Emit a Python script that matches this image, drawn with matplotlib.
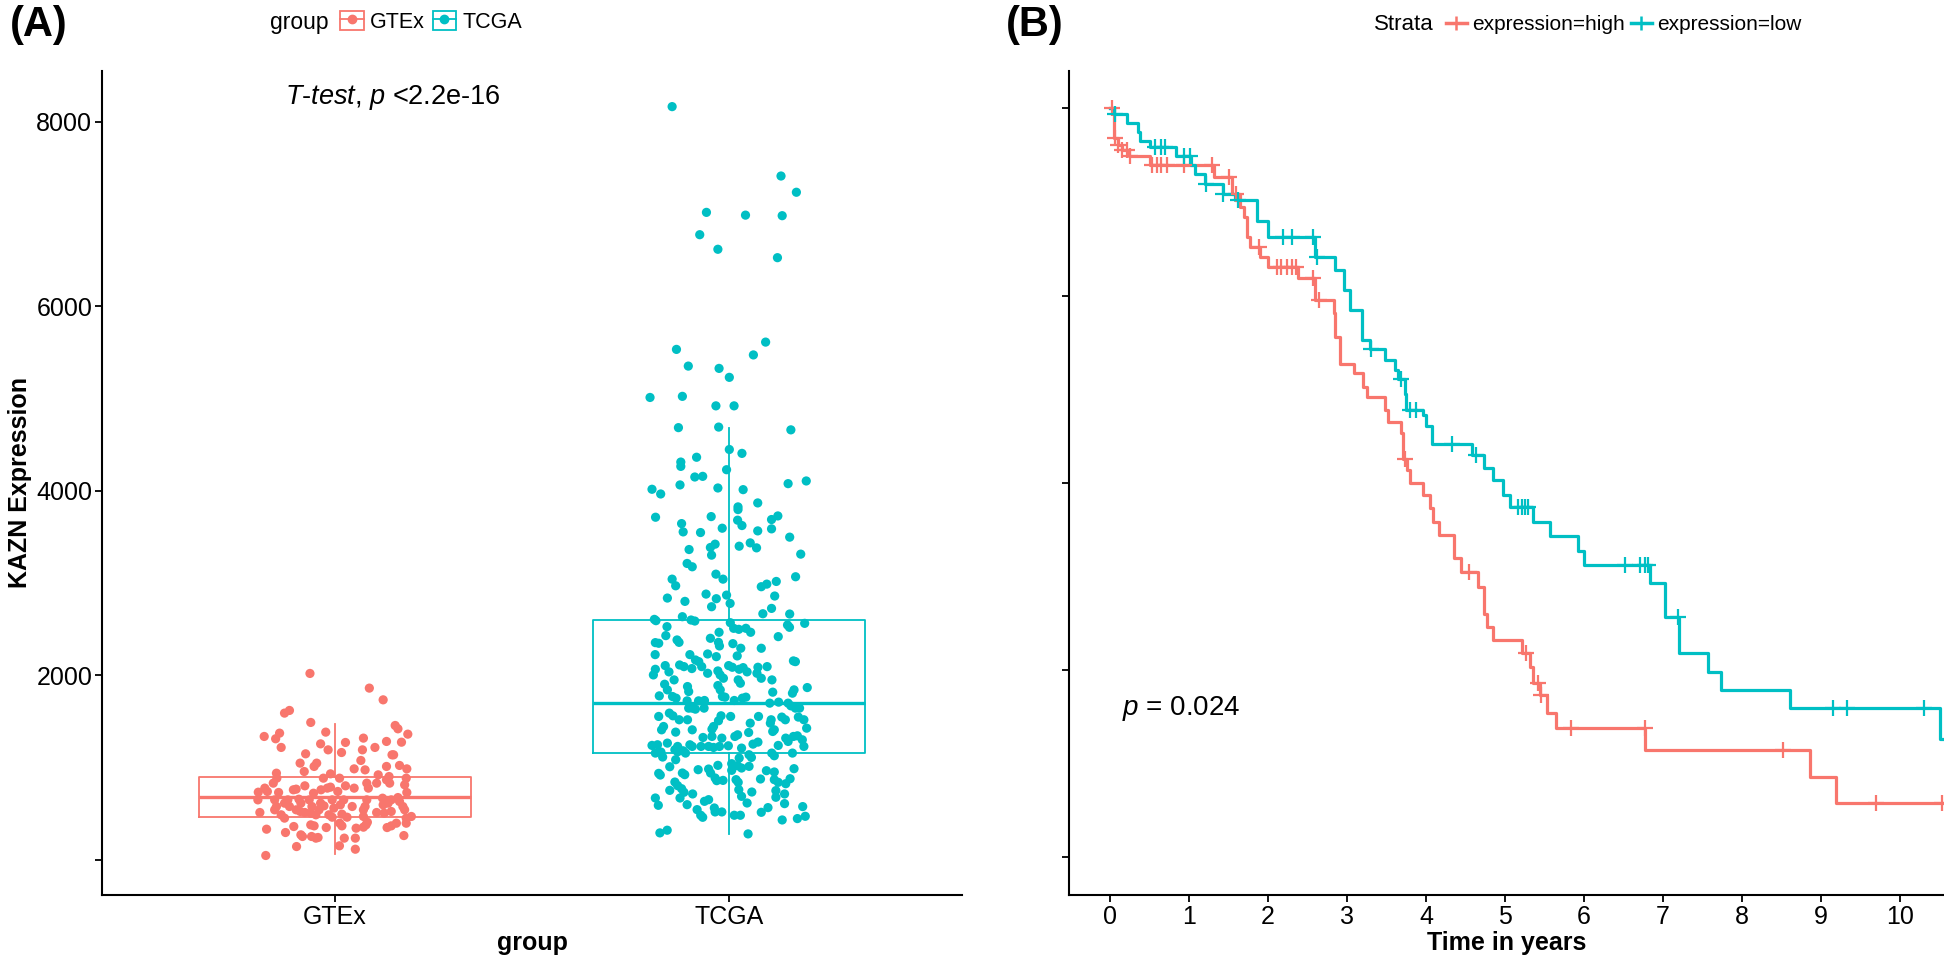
import numpy as np
import matplotlib
matplotlib.use('Agg')
import matplotlib.pyplot as plt
from matplotlib.lines import Line2D
from matplotlib.patches import Rectangle
from matplotlib.legend_handler import HandlerTuple

RED = '#F8766D'
TEAL = '#00BFC4'

plt.rcParams['font.family'] = ['Liberation Sans', 'DejaVu Sans']
plt.rcParams['mathtext.fontset'] = 'custom'
plt.rcParams['mathtext.rm'] = 'Liberation Sans'
plt.rcParams['mathtext.it'] = 'Liberation Sans:italic'

# ---- panel A data: (jitter offset, expression) ----
groups = ['GTEx', 'TCGA']

gtex_points = [
    (-0.063, 2021), (0.0875, 1862), (0.1225, 1735), (-0.1275, 1591), (-0.115, 1620),
    (-0.061, 1490), (-0.179, 1338), (-0.15, 1313), (-0.14, 1374), (-0.136, 1219),
    (-0.023, 1385), (-0.036, 1258), (-0.017, 1193), (0.027, 1273), (0.017, 1164),
    (0.0725, 1320), (0.07, 1193), (0.1017, 1219), (0.131, 1284), (0.153, 1457),
    (0.16, 1421), (0.185, 1363), (0.169, 1276), (-0.074, 1150), (-0.088, 1049),
    (-0.046, 1049), (-0.0525, 1013), (-0.0775, 958), (0.049, 987), (0.066, 1078),
    (0.0767, 976), (0.145, 1139), (0.149, 1139), (0.131, 1013), (0.164, 1024),
    (0.1825, 987), (-0.148, 940), (-0.147, 886), (-0.011, 933), (-0.029, 886),
    (0.012, 886), (0.11, 922), (0.131, 868), (0.139, 832), (0.1375, 904),
    (0.181, 886), (0.177, 814), (-0.194, 734), (-0.1775, 778), (-0.171, 742),
    (-0.156, 832), (-0.1425, 731), (-0.119, 651), (-0.105, 760), (-0.098, 767),
    (-0.076, 803), (-0.054, 723), (-0.035, 760), (-0.019, 778), (-0.011, 789),
    (0.0075, 742), (0.027, 803), (0.049, 778), (0.081, 832), (0.085, 778),
    (0.106, 832), (0.121, 669), (0.143, 651), (0.16, 676), (0.1825, 731),
    (-0.195, 651), (-0.1525, 651), (-0.148, 579), (-0.1275, 615), (-0.115, 579),
    (-0.091, 658), (-0.086, 615), (-0.065, 651), (-0.058, 579), (-0.036, 615),
    (-0.0275, 586), (-0.0067, 651), (-0.0025, 561), (0.014, 597), (0.0225, 651),
    (0.044, 579), (0.0767, 579), (0.081, 651), (0.1225, 597), (0.135, 615),
    (0.164, 633), (0.1725, 579), (-0.19, 514), (-0.1525, 543), (-0.136, 489),
    (-0.1275, 453), (-0.098, 543), (-0.0875, 525), (-0.076, 514), (-0.061, 507),
    (-0.048, 489), (-0.04, 543), (-0.015, 489), (-0.0067, 463), (0.018, 496),
    (0.031, 463), (0.0725, 543), (0.0725, 471), (0.106, 514), (0.125, 507),
    (0.143, 525), (0.177, 543), (0.181, 453), (-0.173, 333), (-0.125, 297),
    (-0.104, 362), (-0.086, 272), (-0.082, 254), (-0.061, 380), (-0.0525, 369),
    (-0.059, 254), (-0.048, 236), (-0.0425, 243), (-0.0217, 351), (-0.097, 145),
    (0.0125, 398), (0.018, 369), (0.024, 236), (0.0117, 153), (0.054, 344),
    (0.052, 236), (0.052, 116), (0.0725, 355), (0.079, 380), (0.0825, 409),
    (0.1325, 351), (0.143, 369), (0.156, 398), (0.181, 398), (0.194, 471),
    (0.175, 264), (-0.175, 48),
]

tcga_points = [
    (-0.145, 8164), (0.131, 7412), (0.170, 7236), (-0.058, 7018), (0.041, 6988),
    (0.134, 6982), (-0.075, 6776), (-0.029, 6618), (0.122, 6527), (0.092, 5612),
    (-0.134, 5533), (0.061, 5473), (-0.104, 5352), (-0.026, 5327), (0.0, 5230),
    (-0.201, 5012), (-0.119, 5024), (-0.034, 4921), (0.012, 4921), (-0.129, 4685),
    (-0.027, 4691), (0.156, 4661), (0.0, 4448), (0.032, 4406), (-0.083, 4364),
    (-0.123, 4312), (-0.123, 4265), (-0.007, 4229), (-0.0875, 4150), (-0.0675, 4157),
    (-0.196, 4017), (-0.174, 3966), (-0.125, 4064), (-0.029, 4031), (0.035, 4013),
    (0.149, 4078), (0.195, 4107), (0.072, 3869), (0.022, 3826), (0.022, 3797),
    (-0.187, 3714), (-0.046, 3721), (0.021, 3682), (0.032, 3624), (0.107, 3689),
    (0.123, 3728), (-0.121, 3645), (-0.117, 3555), (-0.073, 3548), (-0.018, 3595),
    (0.072, 3566), (0.107, 3588), (0.153, 3498), (0.025, 3400), (0.053, 3436),
    (0.069, 3382), (-0.048, 3386), (-0.036, 3422), (-0.102, 3364), (-0.045, 3303),
    (0.181, 3314), (-0.107, 3213), (-0.094, 3177), (-0.034, 3097), (-0.016, 3043),
    (-0.145, 3043), (-0.136, 2971), (0.168, 3069), (0.081, 2961), (0.095, 2989),
    (0.119, 3018), (0.115, 2860), (-0.157, 2838), (-0.1125, 2802), (-0.059, 2881),
    (-0.033, 2831), (-0.045, 2744), (-0.007, 2870), (0.002, 2780), (0.107, 2726),
    (0.085, 2668), (0.153, 2665), (-0.19, 2607), (-0.186, 2593), (-0.119, 2636),
    (-0.097, 2600), (-0.0875, 2589), (0.1475, 2546), (0.1525, 2521), (0.191, 2564),
    (0.0025, 2571), (-0.158, 2528), (0.011, 2510), (0.024, 2499), (0.042, 2510),
    (0.054, 2467), (-0.026, 2467), (-0.161, 2431), (-0.1325, 2384), (-0.1275, 2358),
    (-0.048, 2402), (-0.0275, 2358), (-0.025, 2319), (0.124, 2420), (-0.1875, 2355),
    (-0.179, 2348), (0.009, 2344), (0.081, 2294), (0.029, 2294), (-0.188, 2225),
    (-0.1, 2225), (-0.055, 2232), (-0.033, 2203), (0.02, 2211), (0.1625, 2157),
    (0.1675, 2149), (-0.0858, 2167), (-0.0775, 2149), (-0.1625, 2106), (-0.126, 2113),
    (-0.115, 2095), (-0.095, 2074), (-0.07, 2095), (-0.1875, 2066), (-0.1925, 2005),
    (-0.153, 2038), (-0.055, 2023), (-0.029, 2048), (-0.0233, 2005), (-0.0017, 2106),
    (0.0075, 2088), (0.025, 2066), (0.035, 2084), (0.045, 2038), (0.0725, 2088),
    (0.07, 2023), (0.0958, 2095), (-0.015, 1969), (-0.14, 1951), (0.081, 1969),
    (0.108, 1951), (0.0225, 1951), (0.028, 1915), (-0.164, 1904), (-0.029, 1890),
    (-0.023, 1843), (-0.106, 1879), (-0.103, 1825), (0.1975, 1868), (0.164, 1843),
    (0.16, 1807), (0.11, 1818), (-0.157, 1843), (-0.144, 1771), (-0.1775, 1778),
    (-0.0175, 1771), (-0.011, 1764), (-0.135, 1753), (-0.078, 1724), (-0.063, 1728),
    (-0.107, 1724), (0.033, 1753), (0.042, 1764), (0.0125, 1728), (0.1025, 1699),
    (0.125, 1710), (0.149, 1699), (0.156, 1670), (0.1675, 1645), (0.178, 1645),
    (-0.103, 1645), (-0.094, 1645), (-0.086, 1634), (-0.064, 1645), (-0.179, 1555),
    (-0.152, 1591), (-0.143, 1562), (-0.127, 1519), (-0.106, 1519), (0.0033, 1555),
    (-0.021, 1562), (-0.0275, 1508), (0.074, 1555), (0.106, 1519), (0.104, 1482),
    (0.133, 1548), (0.142, 1519), (0.175, 1548), (0.189, 1519), (0.196, 1428),
    (0.053, 1482), (-0.04, 1446), (-0.044, 1417), (-0.1667, 1446), (-0.1717, 1410),
    (-0.136, 1385), (-0.094, 1410), (-0.0667, 1327), (-0.044, 1338), (-0.019, 1320),
    (0.021, 1356), (0.014, 1338), (0.049, 1381), (0.0725, 1277), (0.06, 1255),
    (0.11, 1392), (0.114, 1410), (0.143, 1320), (0.149, 1284), (0.1625, 1338),
    (0.1725, 1345), (0.185, 1302), (0.189, 1230), (-0.196, 1241), (-0.182, 1248),
    (-0.157, 1266), (-0.131, 1230), (-0.1175, 1183), (-0.111, 1158), (-0.1, 1248),
    (-0.094, 1230), (-0.0717, 1230), (-0.0525, 1230), (-0.04, 1219), (-0.025, 1230),
    (-0.0025, 1237), (0.031, 1212), (0.124, 1241), (-0.1875, 1158), (-0.1733, 1169),
    (-0.138, 1194), (-0.131, 1172), (-0.169, 1115), (-0.136, 1086), (0.16, 1158),
    (0.1075, 1158), (0.114, 1129), (0.05, 1140), (0.056, 1111), (0.006, 1043),
    (0.021, 1021), (0.025, 1104), (-0.151, 1010), (-0.079, 978), (-0.0525, 985),
    (-0.0475, 942), (-0.029, 1025), (0.006, 971), (0.031, 996), (0.05, 1014),
    (-0.179, 938), (-0.175, 920), (-0.119, 942), (-0.113, 924), (0.164, 989),
    (0.094, 967), (0.114, 953), (0.079, 877), (0.114, 870), (0.124, 841),
    (0.143, 826), (0.154, 880), (-0.036, 888), (-0.032, 859), (-0.016, 862),
    (0.017, 870), (0.0225, 841), (-0.138, 844), (-0.131, 805), (-0.151, 754),
    (-0.121, 772), (-0.115, 733), (-0.093, 715), (0.024, 761), (0.031, 689),
    (0.057, 736), (0.118, 751), (0.118, 679), (0.14, 715), (-0.125, 671),
    (-0.1875, 671), (-0.18, 592), (-0.107, 599), (-0.0817, 545), (-0.063, 635),
    (-0.0525, 653), (-0.038, 563), (-0.036, 520), (-0.0725, 484), (-0.0675, 462),
    (-0.019, 520), (0.045, 617), (0.081, 516), (0.098, 567), (0.14, 610),
    (0.186, 578), (0.1725, 448), (0.1925, 473), (0.134, 433), (0.0125, 484),
    (0.028, 484), (-0.176, 293), (-0.1575, 322), (0.0475, 282),
]

# box stats: lower whisker, Q1, median, Q3, upper whisker
gtex_box = [61, 461, 685, 897, 1473]
tcga_box = [285, 1158, 1697, 2600, 4685]

# ---- panel B data: Kaplan-Meier steps (years, survival) ----
high_times = [0, 0.05, 0.105, 0.15, 0.245, 0.5, 1.31, 1.55, 1.64, 1.69, 1.73, 1.77,
              1.9, 2.0, 2.38, 2.6, 2.83, 2.85, 2.91, 3.09, 3.2, 3.25, 3.48, 3.52,
              3.69, 3.71, 3.76, 3.8, 3.96, 4.05, 4.09, 4.17, 4.35, 4.45, 4.66, 4.73,
              4.77, 4.85, 5.21, 5.32, 5.35, 5.44, 5.53, 5.65, 6.78, 8.86, 9.19, 10.53]
high_surv = [1.0, 0.96, 0.951, 0.944, 0.936, 0.924, 0.909, 0.886, 0.868, 0.855, 0.828, 0.815,
             0.801, 0.788, 0.773, 0.744, 0.726, 0.695, 0.659, 0.646, 0.628, 0.615, 0.597, 0.581,
             0.566, 0.532, 0.517, 0.5, 0.483, 0.466, 0.448, 0.43, 0.399, 0.38, 0.361, 0.325,
             0.307, 0.29, 0.272, 0.254, 0.232, 0.216, 0.192, 0.172, 0.143, 0.107, 0.072, 0.072]
high_censor = [0.03, 0.06, 0.105, 0.15, 0.21, 0.25, 0.53, 0.59, 0.65, 0.72, 0.93, 1.29,
               1.5, 1.6, 1.88, 2.11, 2.17, 2.24, 2.3, 2.36, 2.57, 2.64, 3.73, 4.55,
               5.27, 5.42, 5.46, 5.84, 6.77, 8.52, 9.7, 10.53]

low_times = [0, 0.05, 0.22, 0.36, 0.38, 0.51, 0.835, 1.03, 1.07, 1.2, 1.43, 1.58, 1.86,
             2.0, 2.6, 2.85, 2.96, 3.04, 3.19, 3.29, 3.48, 3.61, 3.65, 3.73, 3.75, 3.96,
             4.0, 4.08, 4.58, 4.73, 4.85, 4.98, 5.06, 5.36, 5.57, 5.93, 6.0, 6.84, 7.03,
             7.21, 7.57, 7.73, 8.61, 10.51, 10.53]
low_surv = [1.0, 0.993, 0.98, 0.968, 0.957, 0.948, 0.936, 0.924, 0.913, 0.899, 0.886, 0.877, 0.85,
            0.828, 0.801, 0.784, 0.757, 0.73, 0.69, 0.679, 0.664, 0.65, 0.639, 0.619, 0.597, 0.59,
            0.575, 0.552, 0.537, 0.519, 0.503, 0.483, 0.467, 0.448, 0.429, 0.409, 0.39, 0.366, 0.321,
            0.272, 0.247, 0.223, 0.199, 0.158, 0.158]
low_censor = [0.06, 0.57, 0.65, 0.7, 0.93, 1.01, 1.22, 1.43, 1.62, 2.19, 2.3, 2.57, 2.62,
              3.31, 3.69, 3.8, 3.88, 4.33, 4.64, 5.17, 5.21, 5.25, 5.29, 6.52, 6.71, 6.77,
              6.81, 7.19, 9.15, 9.33, 10.31]

fig = plt.figure(figsize=(19.44, 9.57), dpi=100)
ax1 = fig.add_axes([0.0525, 0.0648, 0.4424, 0.861])
ax2 = fig.add_axes([0.5499, 0.0648, 0.4501, 0.861])

# ---- panel A ----
for pos, box, pts, col in [(1, gtex_box, gtex_points, RED), (2, tcga_box, tcga_points, TEAL)]:
    stats = dict(whislo=box[0], q1=box[1], med=box[2], q3=box[3], whishi=box[4])
    ax1.bxp([stats], positions=[pos], widths=0.69, showcaps=False, showfliers=False,
            boxprops=dict(color=col, lw=1.3), whiskerprops=dict(color=col, lw=1.3),
            medianprops=dict(color=col, lw=2.4), zorder=2)
    off, val = zip(*pts)
    ax1.scatter(pos + np.array(off), val, s=44, color=col, edgecolors='none', zorder=3)

ax1.set_xlim(0.41, 2.59)
ax1.set_ylim(-380, 8550)
ax1.set_xticks([1, 2])
ax1.set_xticklabels(groups)
ax1.set_yticks([0, 2000, 4000, 6000, 8000])
ax1.set_yticklabels(['', '2000', '4000', '6000', '8000'])
ax1.set_xlabel('group', fontsize=18, fontweight='bold', labelpad=2)
ax1.set_ylabel('KAZN Expression', fontsize=18, fontweight='bold', labelpad=3)
ax1.text(0.874, 8265, r'$\mathit{T}$-$\mathit{test}$, $\mathit{p}$ <2.2e-16',
         fontsize=19.5, ha='left', va='center')

# ---- panel B ----
for t, s, cens, col in [(high_times, high_surv, high_censor, RED),
                        (low_times, low_surv, low_censor, TEAL)]:
    ax2.step(t, s, where='post', color=col, lw=2.3, zorder=3)
    idx = np.searchsorted(t, cens, side='right') - 1
    ax2.plot(cens, np.array(s)[idx], '+', color=col, ms=11, mew=1.6, zorder=4)

ax2.set_xlim(-0.52, 10.56)
ax2.set_ylim(-0.051, 1.05)
ax2.set_xticks(range(11))
ax2.set_yticks([0, 0.25, 0.5, 0.75, 1.0])
ax2.set_yticklabels([])
ax2.set_xlabel('Time in years', fontsize=18, fontweight='bold', labelpad=2)
ax2.text(0.15, 0.198, r'$\mathit{p}$ = 0.024', fontsize=20, ha='left', va='center')

for ax in (ax1, ax2):
    ax.spines['top'].set_visible(False)
    ax.spines['right'].set_visible(False)
    ax.spines['left'].set_linewidth(1.5)
    ax.spines['bottom'].set_linewidth(1.5)
    ax.tick_params(length=5, width=1.3, labelsize=18, colors='black', pad=2)
    ax.patch.set_alpha(0)

# ---- legends and panel tags ----
fig.text(10 / 1944, 1 - 25 / 957, '(A)', fontsize=30, fontweight='bold', va='center')
fig.text(1006 / 1944, 1 - 25 / 957, '(B)', fontsize=30, fontweight='bold', va='center')

fig.text(270 / 1944, 1 - 22 / 957, 'group', fontsize=16.5, va='center')
box_handles = [(Rectangle((0, 0), 1, 1, facecolor='white', edgecolor=c, lw=1.3),
                Line2D([], [], color=c, marker='o', ms=6, lw=1.3)) for c in (RED, TEAL)]
fig.legend(box_handles, groups, handler_map={tuple: HandlerTuple(ndivide=1)},
           ncol=2, loc='center left', bbox_to_anchor=(340 / 1944, 1 - 22 / 957),
           frameon=False, fontsize=15.5, handlelength=1.1, handleheight=1.0,
           handletextpad=0.3, columnspacing=0.35, borderpad=0, borderaxespad=0)

fig.text(1374 / 1944, 1 - 25 / 957, 'Strata', fontsize=16, va='center')
km_handles = [Line2D([], [], color=c, marker='+', ms=10, mew=1.8, lw=2.5) for c in (RED, TEAL)]
fig.legend(km_handles, ['expression=high', 'expression=low'], ncol=2, loc='center left',
           bbox_to_anchor=(1446 / 1944, 1 - 25 / 957), frameon=False, fontsize=15,
           handlelength=1.0, handletextpad=0.25, columnspacing=0.3, borderpad=0, borderaxespad=0)

fig.savefig('out.png', dpi=100)
